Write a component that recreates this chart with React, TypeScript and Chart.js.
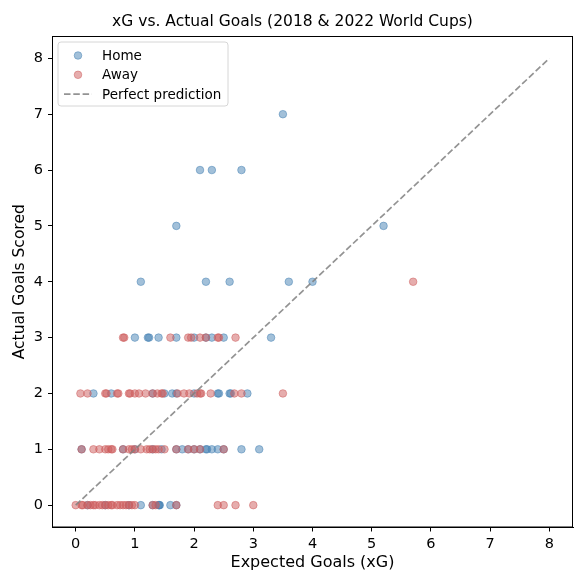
import { useEffect, useRef } from 'react'
import { Chart, registerables, Plugin } from 'chart.js'

Chart.register(...registerables)

// [xG, goals] pairs
const homeShots: [number, number][] = [
  [0.2, 0], [0.5, 0], [0.9, 0], [1.1, 0], [1.3, 0], [1.4, 0], [1.42, 0], [1.41, 0], [1.6, 0], [1.7, 0],
  [0.1, 1], [0.8, 1], [1.0, 1], [1.3, 1], [1.45, 1], [1.7, 1], [1.8, 1], [1.9, 1], [2.0, 1], [2.1, 1],
  [2.2, 1], [2.22, 1], [2.3, 1], [2.4, 1], [2.5, 1], [2.8, 1], [3.1, 1],
  [0.3, 2], [0.6, 2], [1.3, 2], [1.5, 2], [1.63, 2], [1.7, 2], [2.0, 2], [2.4, 2], [2.42, 2], [2.6, 2],
  [2.62, 2], [2.9, 2],
  [1.0, 3], [1.22, 3], [1.24, 3], [1.4, 3], [1.7, 3], [2.0, 3], [2.2, 3], [2.3, 3], [2.5, 3], [3.3, 3],
  [1.1, 4], [2.2, 4], [2.6, 4], [3.6, 4], [4.0, 4],
  [1.7, 5], [5.2, 5],
  [2.1, 6], [2.3, 6], [2.8, 6],
  [3.5, 7],
]

const awayShots: [number, number][] = [
  [0.0, 0], [0.1, 0], [0.12, 0], [0.2, 0], [0.25, 0], [0.3, 0], [0.33, 0], [0.4, 0], [0.45, 0], [0.5, 0],
  [0.55, 0], [0.6, 0], [0.62, 0], [0.7, 0], [0.75, 0], [0.8, 0], [0.85, 0], [0.9, 0], [0.95, 0], [1.0, 0],
  [1.3, 0], [1.35, 0], [1.7, 0], [2.4, 0], [2.5, 0], [2.7, 0], [3.0, 0],
  [0.1, 1], [0.3, 1], [0.4, 1], [0.5, 1], [0.55, 1], [0.6, 1], [0.62, 1], [0.8, 1], [0.9, 1], [0.95, 1],
  [1.0, 1], [1.1, 1], [1.2, 1], [1.25, 1], [1.3, 1], [1.35, 1], [1.4, 1], [1.5, 1], [1.7, 1], [1.9, 1],
  [2.0, 1], [2.1, 1], [2.5, 1],
  [0.08, 2], [0.2, 2], [0.5, 2], [0.52, 2], [0.7, 2], [0.72, 2], [0.9, 2], [0.92, 2], [1.0, 2], [1.07, 2],
  [1.18, 2], [1.3, 2], [1.38, 2], [1.45, 2], [1.47, 2], [1.72, 2], [1.83, 2], [1.92, 2], [2.05, 2], [2.1, 2],
  [2.12, 2], [2.28, 2], [2.68, 2], [2.8, 2], [3.5, 2],
  [0.8, 3], [0.82, 3], [1.6, 3], [1.9, 3], [1.95, 3], [2.1, 3], [2.2, 3], [2.4, 3], [2.42, 3], [2.7, 3],
  [5.7, 4],
]

const diagonal = [0, 8]
const tickValues = [0, 1, 2, 3, 4, 5, 6, 7, 8]
const chartTitle = 'xG vs. Actual Goals (2018 & 2022 World Cups)'

const FONT = 'DejaVu Sans'
const HOME_FILL = 'rgba(70, 130, 180, 0.5)'
const AWAY_FILL = 'rgba(205, 92, 92, 0.5)'
const LINE_COLOR = 'rgba(128, 128, 128, 0.85)'
const DOT_R = 3.8

// full box around the plot like matplotlib spines
const framePlugin: Plugin = {
  id: 'frame',
  afterDatasetsDraw(chart) {
    const { ctx, chartArea: a } = chart
    ctx.save()
    ctx.strokeStyle = '#000'
    ctx.lineWidth = 1
    ctx.strokeRect(a.left + 0.5, a.top + 0.5, a.right - a.left - 1, a.bottom - a.top - 1)
    ctx.restore()
  },
}

// title centred on the whole figure, as matplotlib places it here
const titlePlugin: Plugin = {
  id: 'figTitle',
  afterDraw(chart) {
    const { ctx, width } = chart
    ctx.save()
    ctx.font = `15.5px "${FONT}"`
    ctx.fillStyle = '#000'
    ctx.textAlign = 'center'
    ctx.textBaseline = 'middle'
    ctx.fillText(chartTitle, width / 2, 22)
    ctx.restore()
  },
}

// legend in the upper left corner of the axes
const legendPlugin: Plugin = {
  id: 'cornerLegend',
  afterDraw(chart) {
    const { ctx, chartArea: a } = chart
    const x = a.left + 6
    const y = a.top + 6
    const w = 170
    const h = 64
    ctx.save()
    ctx.beginPath()
    ctx.roundRect(x, y, w, h, 3)
    ctx.fillStyle = 'rgba(255,255,255,0.8)'
    ctx.fill()
    ctx.strokeStyle = '#d6d6d6'
    ctx.lineWidth = 1
    ctx.stroke()

    const rows = [
      { label: 'Home', color: HOME_FILL, kind: 'dot' },
      { label: 'Away', color: AWAY_FILL, kind: 'dot' },
      { label: 'Perfect prediction', color: LINE_COLOR, kind: 'line' },
    ]
    ctx.font = `13.5px "${FONT}"`
    ctx.textBaseline = 'middle'
    rows.forEach((r, i) => {
      const cy = y + 13.5 + i * 19.3
      if (r.kind === 'dot') {
        ctx.beginPath()
        ctx.arc(x + 20, cy, DOT_R, 0, Math.PI * 2)
        ctx.fillStyle = r.color
        ctx.fill()
        ctx.strokeStyle = r.color
        ctx.stroke()
      } else {
        ctx.beginPath()
        ctx.setLineDash([6.5, 2.8])
        ctx.moveTo(x + 6, cy)
        ctx.lineTo(x + 34, cy)
        ctx.strokeStyle = r.color
        ctx.lineWidth = 1.7
        ctx.stroke()
        ctx.setLineDash([])
        ctx.lineWidth = 1
      }
      ctx.fillStyle = '#000'
      ctx.fillText(r.label, x + 44, cy + 1)
    })
    ctx.restore()
  },
}

export default function App() {
  const canvasRef = useRef<HTMLCanvasElement>(null)

  useEffect(() => {
    if (!canvasRef.current) return
    document.body.style.margin = '0'

    const chart = new Chart(canvasRef.current, {
      type: 'scatter',
      data: {
        datasets: [
          {
            label: 'Home',
            data: homeShots.map(([x, y]) => ({ x, y })),
            backgroundColor: HOME_FILL,
            borderColor: HOME_FILL,
            borderWidth: 1,
            pointRadius: DOT_R,
            order: 3,
          },
          {
            label: 'Away',
            data: awayShots.map(([x, y]) => ({ x, y })),
            backgroundColor: AWAY_FILL,
            borderColor: AWAY_FILL,
            borderWidth: 1,
            pointRadius: DOT_R,
            order: 2,
          },
          {
            type: 'line',
            label: 'Perfect prediction',
            data: diagonal.map(v => ({ x: v, y: v })),
            borderColor: LINE_COLOR,
            borderWidth: 1.7,
            borderDash: [6.5, 2.8],
            pointRadius: 0,
            fill: false,
            order: 1,
          },
        ],
      },
      options: {
        responsive: false,
        animation: false,
        layout: { padding: { top: 36, right: 12, bottom: 0, left: 0 } },
        plugins: {
          legend: { display: false },
          tooltip: { enabled: false },
          title: { display: false },
        },
        scales: {
          x: {
            type: 'linear',
            min: -0.4,
            max: 8.4,
            afterBuildTicks: axis => {
              axis.ticks = tickValues.map(v => ({ value: v }))
            },
            afterFit: scale => {
              scale.height = 57.5
            },
            grid: { drawOnChartArea: false, drawTicks: true, tickLength: 4, color: '#000' },
            border: { display: true, color: '#000' },
            ticks: { color: '#000', font: { family: FONT, size: 14.5 }, padding: 4, maxRotation: 0 },
            title: {
              display: true,
              text: 'Expected Goals (xG)',
              color: '#000',
              font: { family: FONT, size: 16 },
              padding: { top: 2, bottom: 13 },
            },
          },
          y: {
            type: 'linear',
            min: -0.4,
            max: 8.4,
            afterBuildTicks: axis => {
              axis.ticks = tickValues.map(v => ({ value: v }))
            },
            afterFit: scale => {
              scale.width = 52
            },
            grid: { drawOnChartArea: false, drawTicks: true, tickLength: 4, color: '#000' },
            border: { display: true, color: '#000' },
            ticks: { color: '#000', font: { family: FONT, size: 14.5 }, padding: 5 },
            title: {
              display: true,
              text: 'Actual Goals Scored',
              color: '#000',
              font: { family: FONT, size: 15.5 },
              padding: { top: 11, bottom: 2 },
            },
          },
        },
      },
      plugins: [framePlugin, legendPlugin, titlePlugin],
    })

    return () => {
      chart.destroy()
    }
  }, [])

  return (
    <div style={{ width: 585, height: 585, background: '#fff' }}>
      <canvas ref={canvasRef} width={585} height={585} style={{ width: 585, height: 585 }} />
    </div>
  )
}
